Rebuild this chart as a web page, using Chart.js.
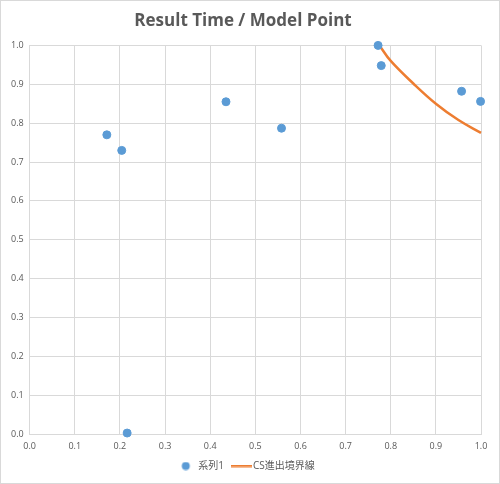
<!DOCTYPE html>
<html>
<head>
<meta charset="utf-8">
<script src="https://cdn.jsdelivr.net/npm/chart.js@4/dist/chart.umd.min.js"></script>
<style>
    html, body { margin: 0; padding: 0; background: #fff; }
    #wrap { position: absolute; left: 0; top: 0; width: 498px; height: 482px; border: 1px solid #d9d9d9; }
</style>
</head>
<body>
<div id="wrap"><canvas id="chart" width="498" height="482"></canvas></div>
<script>
// scatter points (系列1)
const seriesX = [0.171, 0.204, 0.435, 0.558, 0.772, 0.779, 0.957, 0.999, 0.216];
const seriesY = [0.770, 0.730, 0.855, 0.787, 1.000, 0.948, 0.882, 0.856, 0.003];

// boundary curve (CS進出境界線)
const boundaryX = [0.775, 0.80, 0.85, 0.90, 0.95, 1.00];
const boundaryY = [1.000, 0.960, 0.902, 0.850, 0.808, 0.775];

const tickValues = [0, 0.1, 0.2, 0.3, 0.4, 0.5, 0.6, 0.7, 0.8, 0.9, 1.0];

const labelColor = '#595959';
const gridColor = '#d9d9d9';
const blue = '#5b9bd5';
const orange = '#ed7d31';
const fontFamily = "'Open Sans', 'Noto Sans CJK JP', sans-serif";

function toPoints(xs, ys) {
    return xs.map((x, i) => ({ x: x, y: ys[i] }));
}

// legend markers, drawn off-centre so they sit close to their labels
function dotMarker() {
    const c = document.createElement('canvas');
    c.width = 22; c.height = 9;
    const g = c.getContext('2d');
    g.fillStyle = blue;
    g.beginPath();
    g.arc(14.5, 4.5, 4, 0, Math.PI * 2);
    g.fill();
    return c;
}

function lineMarker() {
    const c = document.createElement('canvas');
    c.width = 30; c.height = 3;
    const g = c.getContext('2d');
    g.fillStyle = orange;
    g.fillRect(9, 0, 21, 2.5);
    return c;
}

const markers = [dotMarker(), lineMarker()];

const ctx = document.getElementById('chart').getContext('2d');
new Chart(ctx, {
    type: 'scatter',
    data: {
        datasets: [{
            label: '系列1',
            data: toPoints(seriesX, seriesY),
            backgroundColor: blue,
            borderColor: blue,
            pointRadius: 4,
            pointStyle: 'circle',
            clip: false
        }, {
            label: 'CS進出境界線',
            data: toPoints(boundaryX, boundaryY),
            showLine: true,
            borderColor: orange,
            backgroundColor: orange,
            borderWidth: 2.5,
            pointRadius: 0,
            tension: 0.4,
            clip: false
        }]
    },
    options: {
        responsive: false,
        animation: false,
        layout: { padding: { left: 4, right: 18, top: 4, bottom: 2 } },
        plugins: {
            title: {
                display: true,
                text: 'Result Time / Model Point',
                color: labelColor,
                font: { family: fontFamily, size: 17, weight: 'bold' },
                padding: { top: 6, bottom: 14 }
            },
            legend: {
                position: 'bottom',
                labels: {
                    usePointStyle: true,
                    color: labelColor,
                    font: { family: fontFamily, size: 10 },
                    pointStyleWidth: 22,
                    padding: 2,
                    generateLabels: chart => {
                        const items = Chart.defaults.plugins.legend.labels.generateLabels(chart);
                        items.forEach((item, i) => { item.pointStyle = markers[i]; });
                        return items;
                    }
                }
            },
            tooltip: { enabled: false }
        },
        scales: {
            x: {
                type: 'linear',
                min: 0,
                max: 1,
                afterBuildTicks: axis => { axis.ticks = tickValues.map(v => ({ value: v })); },
                ticks: {
                    color: labelColor,
                    font: { family: fontFamily, size: 9 },
                    callback: v => v.toFixed(1),
                    padding: 7
                },
                grid: { color: gridColor, drawTicks: false },
                border: { color: gridColor }
            },
            y: {
                type: 'linear',
                min: 0,
                max: 1,
                afterBuildTicks: axis => { axis.ticks = tickValues.map(v => ({ value: v })); },
                ticks: {
                    color: labelColor,
                    font: { family: fontFamily, size: 9 },
                    callback: v => v.toFixed(1),
                    padding: 6
                },
                grid: { color: gridColor, drawTicks: false },
                border: { color: gridColor }
            }
        }
    }
});
</script>
</body>
</html>
